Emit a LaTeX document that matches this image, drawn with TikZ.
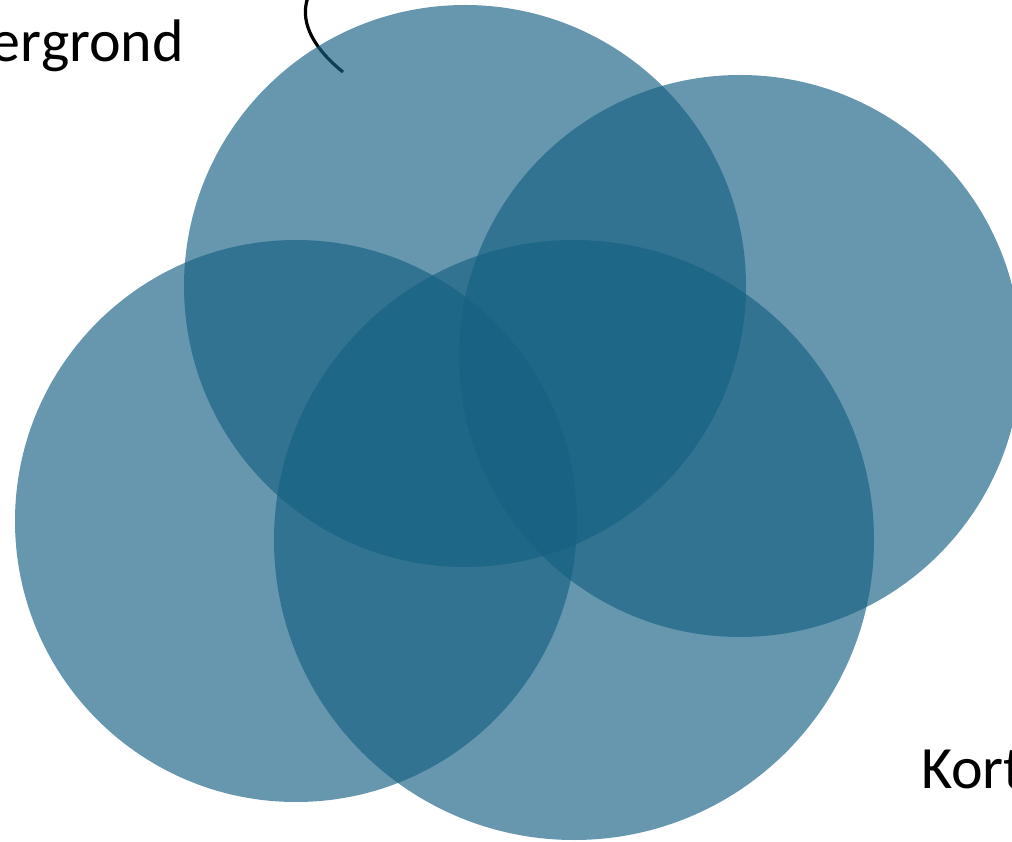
\documentclass[tikz,border=0pt]{standalone}
\usepackage{fontspec}
\setmainfont{Carlito}
\definecolor{venn}{HTML}{156082}
\begin{document}
\begin{tikzpicture}[x=1pt,y=-1pt,
  vennset/.style={fill=venn,fill opacity=0.65,draw=none},
  lbl/.style={font=\fontsize{60}{70}\selectfont,inner sep=0pt,text=black}]
\useasboundingbox (0,0) rectangle (1012,842);
\coordinate (cs) at (308,-3);
\coordinate (ce) at (343,72);
\draw[line width=3.2pt,black] (cs) .. controls (298,25) and (318,52) .. (ce);
\fill[vennset] (465,286) circle (281);
\fill[vennset] (740,356) circle (281);
\fill[vennset] (296,521) circle (281);
\fill[vennset] (574,540) circle (300);
\node[lbl,anchor=base east] (achter) at (184,62) {ergrond};
\node[lbl,anchor=base west] (kort) at (921,788) {Kort};
\end{tikzpicture}
\end{document}
